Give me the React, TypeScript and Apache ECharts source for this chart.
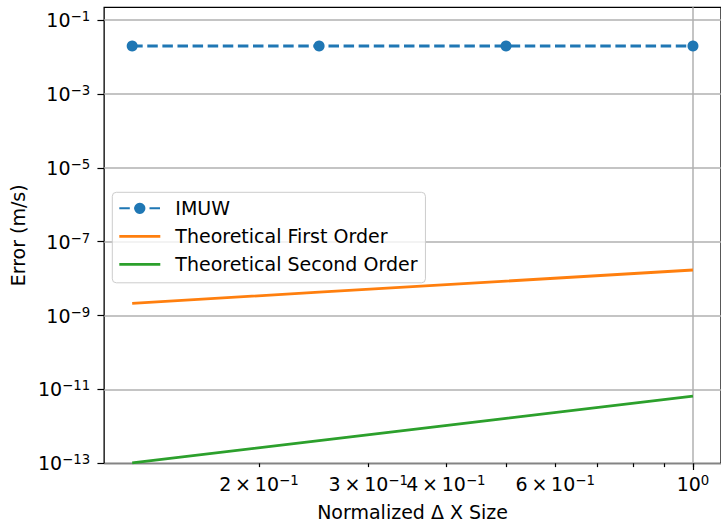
import React, { useEffect, useRef } from "react";
import * as echarts from "echarts";

const dxSizes = [0.125, 0.25, 0.5, 1.0];
const imuwError = [0.0198, 0.0198, 0.0198, 0.0198];
const firstOrder = [2.14e-9, 4.28e-9, 8.55e-9, 1.71e-8];
const secondOrder = [1.03e-13, 4.1e-13, 1.65e-12, 6.6e-12];

const xTickValues = [0.2, 0.3, 0.4, 0.5, 0.6, 0.7, 0.8, 0.9, 1.0];
const xLabelValues = [0.2, 0.3, 0.4, 0.6, 1.0];
const xLabelTexts = [
  "{b|2\u2009×\u200910}{s|−1}",
  "{b|3\u2009×\u200910}{s|−1}",
  "{b|4\u2009×\u200910}{s|−1}",
  "{b|6\u2009×\u200910}{s|−1}",
  "{b|10}{s|0}",
];
const yTickExponents = [-13, -11, -9, -7, -5, -3, -1];

const FONT = "DejaVu Sans";
const l10 = (v: number) => Math.log10(v);

const X_MIN = l10(0.125) - 0.05 * (l10(1) - l10(0.125));
const X_MAX = l10(1) + 0.05 * (l10(1) - l10(0.125));
const Y_MIN = -13;
const Y_MAX = -0.656;

const rich = {
  b: { fontSize: 19, fontFamily: FONT, color: "#000", lineHeight: 20 },
  s: { fontSize: 13.3, fontFamily: FONT, color: "#000", lineHeight: 10, verticalAlign: "top" },
};

const LINE_ICON = "path://M0,0 H41 V2.8 H0 Z";

export default function App() {
  const ref = useRef<HTMLDivElement>(null);
  useEffect(() => {
    if (!ref.current) return;
    const chart = echarts.init(ref.current, undefined, { renderer: "svg" });
    const toPts = (ys: number[]) => dxSizes.map((x, i) => [l10(x), l10(ys[i])]);
    chart.setOption({
      animation: false,
      textStyle: { fontFamily: FONT },
      grid: {
        left: 102.7,
        top: 7.3,
        width: 620,
        height: 456,
        show: true,
        borderColor: "#000",
        borderWidth: 1.3,
        backgroundColor: "transparent",
      },
      legend: {
        left: 112.3,
        top: 192.3,
        orient: "vertical",
        data: [
          { name: "IMUW" },
          { name: "Theoretical First Order", icon: LINE_ICON, itemStyle: { color: "#ff7f0e" } },
          { name: "Theoretical Second Order", icon: LINE_ICON, itemStyle: { color: "#2ca02c" } },
        ],
        itemWidth: 41,
        itemHeight: 14,
        itemGap: 9,
        padding: [6.5, 8, 9, 6],
        backgroundColor: "rgba(255,255,255,0.8)",
        borderColor: "#cccccc",
        borderWidth: 1,
        borderRadius: 4,
        textStyle: { fontSize: 19, color: "#000", fontFamily: FONT, padding: [0, 0, 0, 10] },
      },
      xAxis: [
        {
          type: "value",
          min: X_MIN,
          max: X_MAX,
          name: "Normalized Δ X Size",
          nameLocation: "middle",
          nameGap: 39,
          nameTextStyle: { fontSize: 19, color: "#000", fontFamily: FONT },
          axisLine: { show: false, onZero: false },
          splitLine: { show: false },
          axisTick: {
            show: true,
            customValues: xTickValues.map(l10),
            length: 3.8,
            lineStyle: { color: "#000", width: 1.2 },
          },
          axisLabel: {
            show: true,
            customValues: xLabelValues.map(l10),
            margin: 11,
            rich,
            formatter: (v: number) => {
              let best = 0;
              for (let i = 0; i < xLabelValues.length; i++) {
                if (Math.abs(l10(xLabelValues[i]) - v) < Math.abs(l10(xLabelValues[best]) - v)) best = i;
              }
              return xLabelTexts[best];
            },
          },
        },
        {
          type: "value",
          min: X_MIN,
          max: X_MAX,
          position: "bottom",
          axisLine: { show: false, onZero: false },
          splitLine: { show: false },
          axisLabel: { show: false },
          axisTick: {
            show: true,
            customValues: [0],
            length: 6.7,
            lineStyle: { color: "#000", width: 1.2 },
          },
        },
      ],
      yAxis: {
        type: "value",
        min: Y_MIN,
        max: Y_MAX,
        interval: 2,
        name: "Error (m/s)",
        nameLocation: "middle",
        nameGap: 73,
        nameRotate: 90,
        nameTextStyle: { fontSize: 19, color: "#000", fontFamily: FONT },
        axisLine: { show: false, onZero: false },
        axisTick: {
          show: true,
          customValues: yTickExponents,
          length: 6.7,
          lineStyle: { color: "#000", width: 1.2 },
        },
        splitLine: { show: true, lineStyle: { color: "#b0b0b0", width: 1.5 } },
        axisLabel: {
          customValues: yTickExponents,
          margin: 14,
          rich,
          formatter: (v: number) => {
            const n = Math.round(v);
            if (Math.abs(v - n) > 1e-6) return "";
            return `{b|10}{s|${n < 0 ? "−" + -n : n}}`;
          },
        },
      },
      series: [
        {
          name: "IMUW",
          type: "line",
          data: toPts(imuwError),
          symbol: "circle",
          symbolSize: 11,
          itemStyle: { color: "#1f77b4" },
          lineStyle: { color: "#1f77b4", width: 2.8, type: [10.5, 4.6] },
          z: 5,
          markLine: {
            silent: true,
            symbol: ["none", "none"],
            label: { show: false },
            lineStyle: { color: "#b0b0b0", width: 1.5, type: "solid" },
            data: [{ xAxis: 0 }],
            z: 1,
          },
        },
        {
          name: "Theoretical First Order",
          type: "line",
          data: toPts(firstOrder),
          showSymbol: false,
          symbol: "none",
          itemStyle: { color: "#ff7f0e" },
          lineStyle: { color: "#ff7f0e", width: 2.8 },
          z: 4,
        },
        {
          name: "Theoretical Second Order",
          type: "line",
          data: toPts(secondOrder),
          showSymbol: false,
          symbol: "none",
          itemStyle: { color: "#2ca02c" },
          lineStyle: { color: "#2ca02c", width: 2.8 },
          z: 4,
        },
      ],
    });
    return () => chart.dispose();
  }, []);
  return (
    <div
      ref={ref}
      style={{ position: "fixed", left: 0, top: 0, width: 721, height: 527, background: "#fff" }}
    />
  );
}
